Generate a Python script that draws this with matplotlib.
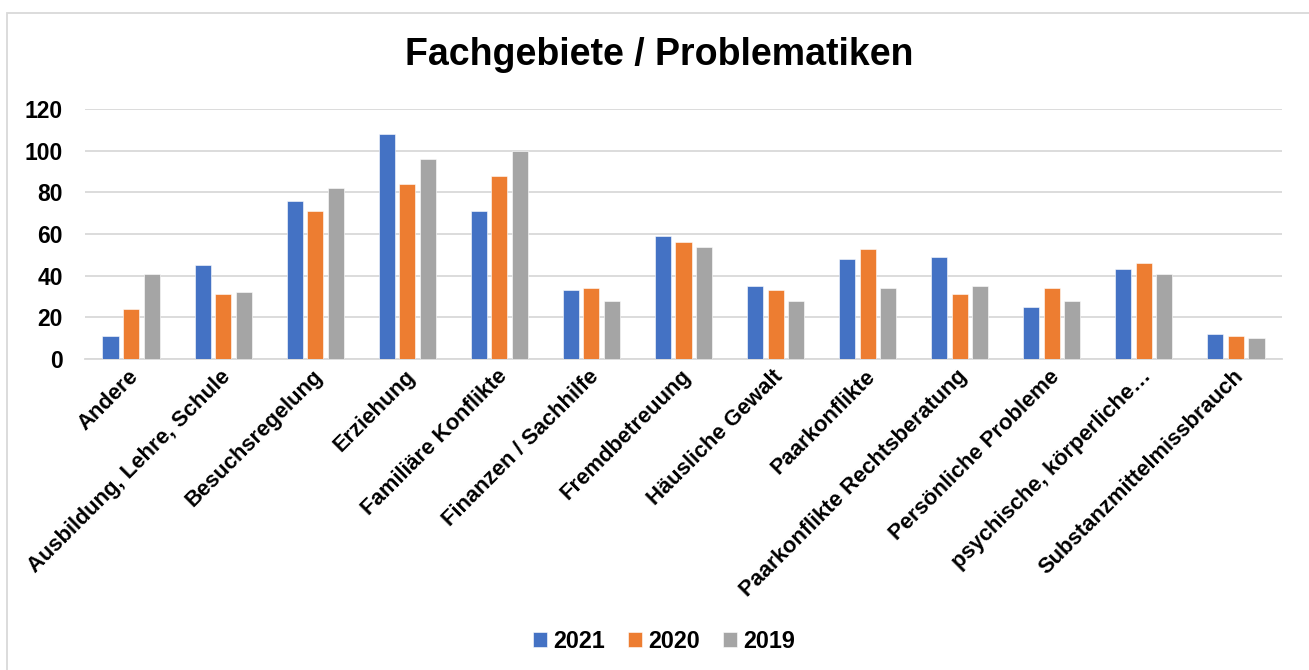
import matplotlib
matplotlib.use("Agg")
import matplotlib.pyplot as plt
import matplotlib.patches as mpatches
import matplotlib.transforms as mtransforms
import numpy as np

categories = ["Andere", "Ausbildung, Lehre, Schule", "Besuchsregelung", "Erziehung",
              "Familiäre Konflikte", "Finanzen / Sachhilfe", "Fremdbetreuung",
              "Häusliche Gewalt", "Paarkonflikte", "Paarkonflikte Rechtsberatung",
              "Persönliche Probleme", "psychische, körperliche…", "Substanzmittelmissbrauch"]
series_names = ["2021", "2020", "2019"]
v2021 = [11, 45, 76, 108, 71, 33, 59, 35, 48, 49, 25, 43, 12]
v2020 = [24, 31, 71, 84, 88, 34, 56, 33, 53, 31, 34, 46, 11]
v2019 = [41, 32, 82, 96, 100, 28, 54, 28, 34, 35, 28, 41, 10]
yticks = [0, 20, 40, 60, 80, 100, 120]
title = "Fachgebiete / Problematiken"

colors = ["#4472C4", "#ED7D31", "#A5A5A5"]

plt.rcParams['font.family'] = ['Liberation Sans', 'DejaVu Sans']
plt.rcParams['font.weight'] = 'bold'

W, H = 1309, 670
fig = plt.figure(figsize=(W / 100, H / 100), dpi=100)
fig.patch.set_facecolor("white")

# outer chart border (extends beyond right/bottom edges)
fig.patches.append(mpatches.Rectangle((7 / W, -0.05), 1.2, 1 - 13 / H + 0.05,
                                      transform=fig.transFigure, fill=False,
                                      edgecolor="#D9D9D9", linewidth=1.3))

ax = fig.add_axes([85 / W, (H - 359) / H, (1282 - 85) / W, 250 / H])
x = np.arange(len(categories))
bw = 0.174
step = 0.223
for i, (vals, name) in enumerate(zip([v2021, v2020, v2019], series_names)):
    ax.bar(x + (i - 1) * step, vals, width=bw, color=colors[i], label=name,
           edgecolor="white", linewidth=0.4, zorder=3)

ax.set_xlim(-0.5, len(categories) - 0.5)
ax.set_ylim(0, 120)
ax.set_yticks(yticks)
ax.set_yticklabels([str(t) for t in yticks], fontsize=16.5, fontweight='bold')
ax.yaxis.grid(True, color="#D9D9D9", linewidth=1.3, zorder=0)
ax.set_axisbelow(True)
for s in ["top", "right", "left"]:
    ax.spines[s].set_visible(False)
ax.spines["bottom"].set_color("#D9D9D9")
ax.spines["bottom"].set_linewidth(1.3)
ax.tick_params(axis="both", length=0)
ax.tick_params(axis="y", pad=16)

ax.set_xticks(x)
ax.set_xticklabels(categories, rotation=45, ha="right", va="top",
                   rotation_mode="anchor", fontsize=15.8, fontweight='bold')
ax.tick_params(axis="x", pad=5)
offset = mtransforms.ScaledTranslation(-3 / 100, 0, fig.dpi_scale_trans)
for lbl in ax.get_xticklabels():
    lbl.set_transform(lbl.get_transform() + offset)

fig.text(659 / W, 1 - 55 / H, title, ha="center", va="center",
         fontsize=27, fontweight="bold")

leg = fig.legend(loc="center", bbox_to_anchor=(664 / W, 1 - 641 / H), ncol=3,
                 frameon=False, prop={'size': 16.8, 'weight': 'bold'},
                 handlelength=0.6, handleheight=0.6, handletextpad=0.25,
                 columnspacing=1.0)

fig.savefig("out.png", dpi=100, facecolor="white")
